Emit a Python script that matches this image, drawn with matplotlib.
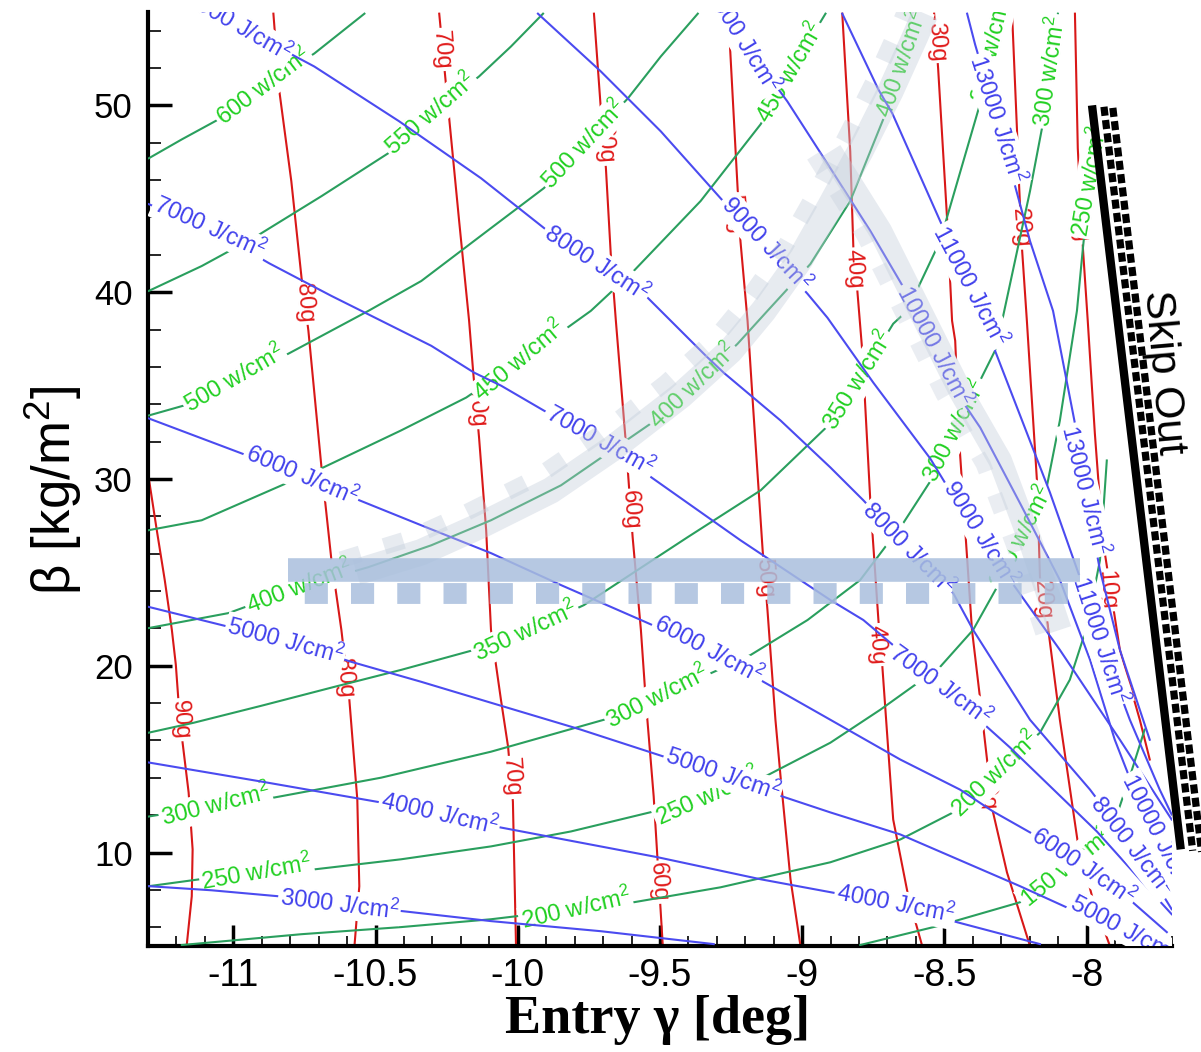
import matplotlib.pyplot as plt
from matplotlib.ticker import MultipleLocator
from matplotlib.transforms import offset_copy

plt.rcParams["font.family"] = ["Liberation Sans", "DejaVu Sans"]
plt.rcParams["axes.unicode_minus"] = False
plt.rcParams["mathtext.fontset"] = "custom"
plt.rcParams["mathtext.rm"] = "Liberation Sans"
plt.rcParams["mathtext.default"] = "regular"

# axis ticks
x_ticks = [-11, -10.5, -10, -9.5, -9, -8.5, -8]
x_tick_labels = ["-11", "-10.5", "-10", "-9.5", "-9", "-8.5", "-8"]
y_ticks = [10, 20, 30, 40, 50]

W = " w/cm$^2$"
J = " J/cm$^2$"

# ---- peak g-load contours (red): (entry gamma, beta) ----
g90 = ([-11.297, -11.269, -11.241, -11.216, -11.202, -11.188, -11.157, -11.143, -11.146, -11.164],
       [30.03, 27.26, 24.59, 21.92, 20.05, 17.11, 13.21, 10.17, 7.66, 5.0])
g80 = ([-10.859, -10.838, -10.796, -10.760, -10.736, -10.690, -10.655, -10.620, -10.592, -10.564, -10.557, -10.574],
       [54.91, 50.75, 45.94, 40.76, 37.94, 30.62, 25.66, 21.92, 18.18, 12.84, 8.20, 5.0])
g70 = ([-10.276, -10.241, -10.206, -10.171, -10.157, -10.136, -10.111, -10.094, -10.059, -10.034, -10.017, -10.006],
       [54.91, 49.31, 43.81, 38.47, 35.80, 32.22, 27.26, 21.92, 18.18, 15.67, 12.73, 5.0])
g60 = ([-9.732, -9.708, -9.690, -9.673, -9.655, -9.620, -9.596, -9.567, -9.550, -9.522, -9.490],
       [54.91, 49.84, 46.64, 42.06, 38.47, 31.95, 26.88, 21.92, 18.18, 13.0, 5.0])
g50 = ([-9.255, -9.234, -9.217, -9.192, -9.174, -9.139, -9.122, -9.094, -9.076, -9.041, -9.006],
       [53.52, 47.54, 42.74, 38.47, 34.20, 26.19, 22.98, 17.11, 14.07, 8.57, 5.0])
g40 = ([-8.859, -8.831, -8.820, -8.806, -8.788, -8.760, -8.732, -8.718, -8.680, -8.627, -8.578],
       [54.91, 47.54, 42.36, 40.07, 36.71, 28.70, 22.45, 19.94, 11.77, 7.66, 5.0])
g30 = ([-8.536, -8.522, -8.490, -8.473, -8.462, -8.445, -8.403, -8.374, -8.329, -8.280, -8.199],
       [54.91, 51.98, 43.81, 38.47, 37.40, 31.37, 21.92, 18.18, 12.16, 8.94, 5.0])
g20 = ([-8.262, -8.245, -8.238, -8.227, -8.210, -8.174, -8.164, -8.139, -8.094, -8.031, -7.978, -7.918],
       [54.91, 48.77, 45.94, 42.31, 38.47, 29.77, 24.75, 22.45, 17.11, 10.54, 7.50, 5.0])
g10 = ([-8.041, -8.031, -8.013, -7.996, -7.971, -7.943, -7.883, -7.813, -7.778],
       [54.91, 47.70, 42.36, 38.47, 32.44, 26.72, 20.85, 17.11, 14.98])
red_lines = [g90, g80, g70, g60, g50, g40, g30, g20, g10]
red_labels = [("90g", -11.188, 17.11), ("80g", -10.750, 39.40), ("80g", -10.610, 19.35),
              ("70g", -10.269, 52.99), ("70g", -10.146, 33.82), ("70g", -10.024, 14.02),
              ("60g", -9.697, 47.92), ("60g", -9.606, 28.32), ("60g", -9.508, 8.41),
              ("50g", -9.238, 44.18), ("50g", -9.132, 24.69),
              ("40g", -8.817, 41.24), ("40g", -8.739, 21.12),
              ("30g", -8.529, 53.42), ("30g", -8.455, 33.77), ("30g", -8.353, 13.37),
              ("20g", -8.234, 43.43), ("20g", -8.157, 23.52),
              ("10g", -8.027, 43.70), ("10g", -7.929, 24.05)]

# ---- peak heat rate contours (green) ----
w600 = ([-11.297, -11.181, -11.052, -10.894, -10.715, -10.539],
        [47.17, 48.18, 49.25, 51.01, 52.78, 54.91])
w550 = ([-11.297, -11.111, -10.918, -10.690, -10.455, -10.304, -10.136, -10.024, -9.911],
        [40.07, 41.40, 43.0, 45.14, 47.44, 49.52, 51.55, 53.15, 54.91])
w500 = ([-11.297, -11.174, -10.996, -10.806, -10.525, -10.339, -10.094, -9.908, -9.767, -9.613, -9.497, -9.367],
        [33.40, 33.93, 35.37, 36.71, 39.0, 40.60, 43.43, 45.57, 47.92, 50.37, 52.62, 54.91])
w450 = ([-11.297, -11.111, -10.806, -10.683, -10.410, -10.181, -9.992, -9.841, -9.743, -9.592, -9.357, -9.146, -9.041, -8.918],
        [27.26, 27.79, 29.82, 30.62, 32.60, 34.36, 36.33, 37.93, 39.0, 41.14, 44.88, 48.99, 51.82, 54.91])
w400 = ([-11.297, -11.017, -10.767, -10.525, -10.304, -10.094, -9.848, -9.532, -9.381, -9.227, -9.122, -8.971, -8.831, -8.708, -8.648, -8.585],
        [22.02, 22.82, 24.21, 25.28, 26.45, 27.79, 29.66, 32.97, 34.95, 37.24, 39.0, 41.51, 44.88, 49.52, 52.08, 54.91])
w350 = ([-11.297, -11.139, -10.901, -10.645, -10.410, -10.153, -9.971, -9.767, -9.403, -9.146, -8.901, -8.803, -8.680, -8.631, -8.515, -8.367, -8.304],
        [16.42, 16.95, 17.86, 18.87, 19.78, 20.85, 21.81, 23.25, 26.88, 29.39, 32.97, 35.26, 38.31, 39.0, 42.74, 50.48, 54.91])
w300 = ([-11.297, -11.062, -10.855, -10.480, -10.094, -9.697, -9.508, -9.311, -9.181, -8.981, -8.796, -8.645, -8.543, -8.462, -8.322, -8.297, -8.199, -8.157, -8.101],
        [11.93, 12.52, 12.95, 14.01, 15.40, 17.11, 18.34, 19.67, 20.58, 22.45, 24.59, 27.63, 30.03, 32.60, 36.87, 38.47, 45.41, 48.77, 54.91])
w250 = ([-11.297, -11.118, -10.918, -10.715, -10.410, -10.094, -9.813, -9.522, -9.332, -9.118, -8.901, -8.725, -8.515, -8.399, -8.315, -8.227, -8.139, -8.094, -8.034, -8.013, -7.988],
        [8.20, 8.57, 8.94, 9.10, 9.64, 10.33, 11.13, 12.20, 13.0, 14.17, 15.88, 17.65, 19.94, 21.92, 24.21, 26.88, 29.66, 33.13, 39.0, 42.36, 45.94])
w200 = ([-11.181, -10.760, -10.410, -10.094, -9.796, -9.592, -9.287, -8.901, -8.655, -8.469, -8.322, -8.164, -8.059, -7.999, -7.953, -7.929],
        [5.05, 5.63, 6.01, 6.43, 6.97, 7.34, 8.14, 9.48, 10.70, 12.15, 14.17, 16.42, 19.25, 22.08, 25.65, 30.99])
w150 = ([-8.796, -8.525, -8.234, -8.069, -7.911, -7.848, -7.796],
        [5.05, 6.06, 7.34, 9.21, 11.24, 14.07, 16.58])
green_lines = [w600, w550, w500, w450, w400, w350, w300, w250, w200, w150]
green_labels = [("600" + W, -10.894, 51.01, 37), ("550" + W, -10.304, 49.52, 41),
                ("500" + W, -10.996, 35.37, 30), ("500" + W, -9.767, 47.92, 47),
                ("450" + W, -9.992, 36.33, 40), ("450" + W, -9.041, 51.76, 60),
                ("400" + W, -10.767, 24.21, 21), ("400" + W, -9.381, 34.95, 44), ("400" + W, -8.648, 52.19, 71),
                ("350" + W, -9.971, 21.81, 25), ("350" + W, -8.803, 35.26, 58), ("350" + W, -8.332, 53.10, 77),
                ("300" + W, -11.062, 12.52, 14), ("300" + W, -9.508, 18.34, 27),
                ("300" + W, -8.462, 32.60, 63), ("300" + W, -8.129, 51.82, 82),
                ("250" + W, -10.918, 8.94, 10), ("250" + W, -9.332, 13.0, 24),
                ("250" + W, -8.227, 26.88, 63), ("250" + W, -7.988, 45.94, 80),
                ("200" + W, -9.796, 6.97, 13), ("200" + W, -8.322, 14.17, 44),
                ("150" + W, -8.069, 9.21, 39)]

# ---- total heat load contours (blue) ----
j3000 = ([-11.297, -11.076, -10.841, -10.627, -10.403, -10.094, -9.708, -9.311],
         [8.20, 7.98, 7.66, 7.23, 6.86, 6.33, 5.79, 5.10])
j4000 = ([-11.297, -10.901, -10.480, -10.276, -10.059, -9.508, -9.146, -8.901, -8.673, -8.455, -8.164],
         [14.82, 13.80, 12.68, 12.04, 11.34, 9.75, 8.57, 7.88, 7.23, 6.27, 5.10])
j5000 = ([-11.297, -11.041, -10.817, -10.585, -10.339, -10.094, -9.778, -9.487, -9.280, -9.069, -8.901, -8.655, -8.234, -7.925, -7.743],
         [23.15, 22.18, 21.33, 20.21, 19.14, 18.02, 16.58, 15.14, 14.17, 13.0, 12.15, 10.97, 8.20, 6.06, 5.05])
j6000 = ([-11.297, -10.971, -10.760, -10.557, -10.339, -10.094, -9.848, -9.567, -9.329, -9.136, -8.901, -8.655, -8.445, -8.329, -8.199, -8.013, -7.838, -7.718],
         [33.24, 31.37, 30.19, 28.86, 27.52, 26.03, 24.32, 22.45, 20.85, 19.14, 17.11, 14.98, 13.37, 12.20, 11.08, 9.26, 7.34, 5.74])
j7000 = ([-11.297, -11.083, -10.873, -10.655, -10.480, -10.304, -10.153, -10.059, -9.908, -9.711, -9.525, -9.217, -8.901, -8.785, -8.515, -8.269, -7.964, -7.813, -7.701],
         [44.71, 43.38, 41.54, 39.80, 38.47, 37.13, 35.69, 35.0, 33.66, 32.06, 30.03, 26.72, 23.52, 22.45, 18.98, 15.62, 11.13, 8.57, 6.70])
j8000 = ([-10.985, -10.715, -10.417, -10.129, -9.894, -9.725, -9.543, -9.339, -9.276, -9.076, -8.901, -8.785, -8.627, -8.469, -8.399, -8.199, -7.988, -7.838, -7.701],
         [54.27, 52.08, 49.15, 46.10, 43.27, 41.54, 39.70, 36.60, 35.69, 33.13, 30.62, 28.86, 26.29, 23.89, 21.92, 17.11, 13.37, 10.33, 6.97])
j9000 = ([-9.929, -9.708, -9.497, -9.287, -8.981, -8.911, -8.750, -8.550, -8.445, -8.269, -8.094, -7.883, -7.701],
         [54.91, 51.82, 48.61, 45.03, 39.91, 38.63, 35.16, 31.10, 28.48, 24.59, 20.85, 16.04, 11.77])
j10000 = ([-9.224, -9.052, -8.901, -8.760, -8.610, -8.469, -8.374, -8.234, -8.094, -7.988, -7.901, -7.778, -7.701],
          [53.79, 50.21, 46.64, 43.27, 39.38, 34.89, 32.75, 28.70, 24.59, 20.32, 16.04, 11.24, 8.57])
j11000 = ([-8.859, -8.732, -8.683, -8.515, -8.410, -8.322, -8.129, -8.024, -7.953, -7.848, -7.743, -7.701],
          [54.91, 50.85, 49.57, 43.81, 40.34, 36.87, 29.28, 24.75, 21.38, 17.11, 13.37, 12.04])
j13000 = ([-8.420, -8.392, -8.315, -8.199, -8.118, -8.041, -8.006, -7.953, -7.883, -7.778],
          [54.91, 53.26, 49.25, 42.74, 39.0, 32.97, 29.39, 25.12, 20.85, 16.04])
blue_lines = [j3000, j4000, j5000, j6000, j7000, j8000, j9000, j10000, j11000, j13000]
blue_labels = [("3000" + J, -10.627, 7.23, -7),
               ("4000" + J, -10.276, 12.04, -13), ("4000" + J, -8.673, 7.23, -11),
               ("5000" + J, -10.817, 21.33, -15), ("5000" + J, -9.280, 14.17, -19), ("5000" + J, -7.866, 5.90, -28),
               ("6000" + J, -10.760, 30.19, -23), ("6000" + J, -9.329, 20.85, -28), ("6000" + J, -8.013, 9.26, -34),
               ("7000" + J, -11.083, 43.45, -24), ("7000" + J, -9.711, 32.06, -29), ("7000" + J, -8.515, 18.98, -36),
               ("8000" + J, -10.985, 54.27, -30), ("8000" + J, -9.725, 41.54, -33),
               ("8000" + J, -8.627, 26.29, -45), ("8000" + J, -7.841, 10.33, -52),
               ("9000" + J, -9.129, 42.58, -47), ("9000" + J, -8.374, 27.10, -58),
               ("10000" + J, -9.224, 53.79, -58), ("10000" + J, -8.539, 37.13, -62), ("10000" + J, -7.750, 10.97, -63),
               ("11000" + J, -8.410, 40.34, -62), ("11000" + J, -7.953, 21.38, -72),
               ("13000" + J, -8.315, 49.25, -72), ("13000" + J, -8.006, 29.39, -76)]

# ---- shaded corridor annotations ----
hband_gamma = [-10.806, -8.024]
hband_beta = [25.12, 25.12]
hteeth_beta = [23.92, 23.92]
arc_gamma = [-10.567, -10.339, -10.129, -9.883, -9.662, -9.427, -9.252, -9.136, -9.006, -8.901, -8.796, -8.690, -8.603, -8.568]
arc_beta = [25.01, 26.08, 27.52, 29.39, 31.69, 34.46, 36.87, 39.0, 41.78, 44.61, 47.54, 50.75, 53.68, 54.91]
diag_gamma = [-8.901, -8.725, -8.585, -8.445, -8.304, -8.199, -8.094]
diag_beta = [47.54, 43.27, 39.0, 34.73, 30.99, 26.72, 21.92]
skip_gamma = [-7.981, -7.669]
skip_beta = [50.0, 10.17]

RED_LINE, RED_TXT = "#d81818", "#e01a1a"
GRN_LINE, GRN_TXT = "#2a9f5e", "#22d022"
BLU_LINE, BLU_TXT = "#4b4bf0", "#4242ec"

fig = plt.figure(figsize=(12.01, 10.52), dpi=100)
ax = fig.add_axes([0.1232, 0.1008, 0.8526, 0.8878])
ax.set_xlim(-11.3, -7.7)
ax.set_ylim(5, 55)


def draw_family(lines, labels, line_color, text_color, z, default_rot=None):
    for gam, bet in lines:
        ax.plot(gam, bet, color=line_color, lw=1.5, zorder=z)
    for lab in labels:
        if default_rot is None:
            text, gx, by, rot = lab
        else:
            text, gx, by = lab
            rot = default_rot
        ax.text(gx, by, text, color=text_color, fontsize=17, rotation=rot,
                rotation_mode="anchor", ha="center", va="center", zorder=z + 0.5,
                clip_on=True,
                bbox=dict(boxstyle="square,pad=0.08", fc="white", ec="none"))


draw_family(red_lines, red_labels, RED_LINE, RED_TXT, 2, default_rot=-86)
draw_family(green_lines, green_labels, GRN_LINE, GRN_TXT, 3)
draw_family(blue_lines, blue_labels, BLU_LINE, BLU_TXT, 4)

# horizontal beta corridor with teeth
ax.plot(hband_gamma, hband_beta, color="#a9bfdd", lw=17, alpha=0.85,
        solid_capstyle="butt", zorder=6)
ax.plot(hband_gamma, hteeth_beta, color="#a9bfdd", lw=15, alpha=0.85,
        linestyle=(1.44, (1.11, 1.11)), zorder=6)

# curved and diagonal corridors
ax.plot(arc_gamma, arc_beta, color="#c3cddb", lw=19, alpha=0.4,
        solid_capstyle="butt", zorder=5)
arc_off = offset_copy(ax.transData, fig=fig, x=-11, y=9, units="points")
ax.plot(arc_gamma, arc_beta, color="#c3cddb", lw=12, alpha=0.4,
        linestyle=(0, (1.2, 1.5)), transform=arc_off, zorder=5)
ax.plot(diag_gamma, diag_beta, color="#c3cddb", lw=17, alpha=0.4,
        solid_capstyle="butt", zorder=5)
diag_off = offset_copy(ax.transData, fig=fig, x=-12, y=-3, units="points")
ax.plot(diag_gamma, diag_beta, color="#c3cddb", lw=11, alpha=0.35,
        linestyle=(0, (1.2, 1.6)), transform=diag_off, zorder=5)

# skip-out boundary
ax.plot(skip_gamma, skip_beta, color="black", lw=6, solid_capstyle="butt",
        clip_on=False, zorder=8)
for dx, dy in [(8.6, -1.0), (15.0, -1.8)]:
    tr = offset_copy(ax.transData, fig=fig, x=dx, y=dy, units="points")
    ax.plot(skip_gamma, skip_beta, color="black", lw=5.2,
            linestyle=(0, (1.25, 0.6)), transform=tr, clip_on=False, zorder=8)
ax.text(-7.732, 35.69, "Skip Out", fontsize=31, rotation=-85,
        rotation_mode="anchor", ha="center", va="center", clip_on=False, zorder=9)

# axes styling
for side in ["top", "right"]:
    ax.spines[side].set_visible(False)
for side in ["left", "bottom"]:
    ax.spines[side].set_linewidth(3)
ax.set_xticks(x_ticks)
ax.set_xticklabels(x_tick_labels, fontsize=27)
ax.set_yticks(y_ticks)
ax.tick_params(axis="y", labelsize=25)
ax.xaxis.set_minor_locator(MultipleLocator(0.1))
ax.yaxis.set_minor_locator(MultipleLocator(2))
ax.tick_params(axis="x", which="major", direction="in", length=15, width=2.5, pad=9)
ax.tick_params(axis="x", which="minor", direction="in", length=7, width=1.2)
ax.tick_params(axis="y", which="major", direction="in", length=17, width=2.5, pad=11)
ax.tick_params(axis="y", which="minor", direction="in", length=9, width=1.2)

ax.set_xlabel("Entry γ [deg]", fontsize=39, fontweight="bold",
              family=["Liberation Serif", "DejaVu Serif"], va="top")
ax.xaxis.set_label_coords(0.498, -0.0525)
ax.set_ylabel("β [kg/m$^2$]", fontsize=38, va="center")
ax.yaxis.set_label_coords(-0.092, 0.488)

fig.savefig("out.png", dpi=100)
